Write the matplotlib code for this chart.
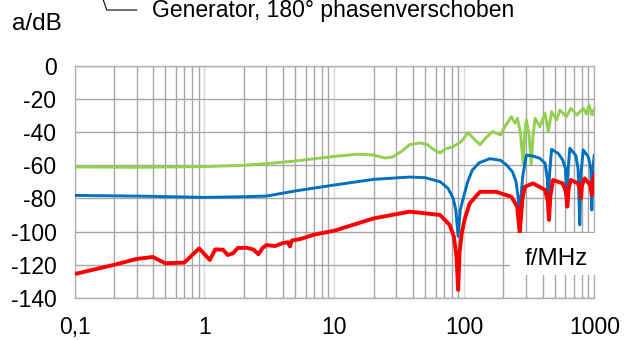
"""Frequency response of three coupling paths, log frequency axis.

Saves the figure as out.png.
"""

import matplotlib.pyplot as plt
import numpy as np
from matplotlib.lines import Line2D
from matplotlib.patches import Rectangle
from matplotlib.ticker import FixedLocator, LogLocator, NullFormatter

# values (f in MHz, a in dB)
green_f = [0.1, 0.3, 1.0, 2.0, 3.0, 5.0, 10, 15, 20, 24.5, 28, 33, 38, 45.5,
           52, 58, 65, 72, 82, 95, 107, 120, 132, 148, 165, 190, 205, 230,
           245, 256, 270, 283, 292, 300, 315, 327, 338, 350, 381, 418, 443,
           469, 513, 543, 611, 660, 736, 822, 870, 913, 957, 1000]
green_db = [-61.0, -61.2, -60.8, -60.0, -59.0, -57.4, -54.6, -53.3, -53.8,
            -55.6, -55.0, -51.5, -47.5, -46.5, -47.5, -50.5, -52.5, -50.0,
            -48.8, -45.5, -40.3, -44.5, -47.5, -43.0, -39.7, -41.7, -36.7,
            -30.6, -34.6, -31.6, -40.0, -58.8, -40.0, -32.6, -42.0, -59.8,
            -42.0, -31.6, -36.7, -28.6, -39.7, -27.6, -32.6, -26.6, -30.6,
            -25.6, -29.6, -25.6, -29.0, -23.6, -29.6, -26.0]

blue_f = [0.1, 0.3, 1.0, 2.0, 3.0, 5.0, 10, 20, 38, 50, 65, 75, 82, 86, 89.6,
          93, 98, 106, 115, 130, 157, 190, 211, 235, 250, 260, 267, 272, 282,
          300, 340, 381, 418, 435, 443, 452, 469, 530, 571, 600, 615, 630, 648,
          720, 750, 773, 790, 822, 900, 940, 957, 975, 1000]
blue_db = [-78.2, -78.6, -79.4, -79.0, -78.6, -75.5, -71.9, -68.5, -67.1,
           -67.5, -69.9, -74.0, -80.0, -87.0, -103.0, -87.0, -80.0, -70.0,
           -63.0, -58.5, -56.0, -57.0, -59.8, -64.0, -70.0, -80.0, -100.0,
           -80.0, -66.0, -53.8, -54.5, -55.8, -58.8, -68.0, -91.0, -66.0,
           -50.3, -53.0, -56.8, -62.0, -85.0, -62.0, -49.7, -54.0, -62.0,
           -96.0, -65.0, -50.7, -55.0, -62.0, -87.0, -62.0, -54.0]

red_f = [0.1, 0.2, 0.3, 0.4, 0.5, 0.7, 0.91, 1.1, 1.21, 1.39, 1.51, 1.66, 1.8,
         2.11, 2.4, 2.6, 2.8, 3.0, 3.5, 4.0, 4.4, 4.55, 4.7, 5.5, 6.9, 10, 20,
         38, 65, 77, 83, 87, 89.6, 92, 96, 101, 110, 132, 175, 230, 255, 267,
         280, 292, 338, 418, 440, 448, 460, 482, 571, 605, 620, 635, 660, 748,
         780, 790, 805, 844, 930, 957, 970, 1000]
red_db = [-125.7, -120.2, -116.6, -115.4, -119.2, -118.8, -110.2, -117.2,
          -110.8, -111.0, -114.2, -113.2, -110.0, -109.8, -111.0, -113.8,
          -110.0, -108.2, -108.8, -107.0, -106.5, -109.0, -105.5, -104.5,
          -102.0, -99.5, -92.1, -88.0, -90.0, -96.0, -103.0, -115.0, -135.3,
          -112.0, -100.0, -92.0, -83.0, -76.0, -76.0, -79.0, -85.0, -101.0,
          -80.0, -73.0, -70.9, -74.9, -82.0, -93.0, -78.0, -68.9, -70.9,
          -76.0, -85.0, -74.0, -68.9, -70.9, -75.0, -80.0, -72.0, -67.9,
          -72.0, -78.0, -70.0, -65.9]

y_ticks = [0, -20, -40, -60, -80, -100, -120, -140]
y_labels = ["0", "-20", "-40", "-60", "-80", "-100", "-120", "-140"]
x_ticks = [0.1, 1, 10, 100, 1000]
x_labels = ["0,1", "1", "10", "100", "1000"]

plt.rcParams["font.family"] = ["Liberation Sans", "DejaVu Sans"]
FS = 16.5
FS_UNIT = 17.5

fig = plt.figure(figsize=(6.24, 3.40), dpi=100)
ax = fig.add_axes([0.1194, 0.1244, 0.833, 0.6815])

ax.plot(green_f, green_db, color="#92d050", lw=2.1, zorder=3)
ax.plot(blue_f, blue_db, color="#0070c0", lw=2.1, zorder=3)
ax.plot(red_f, red_db, color="#ff0000", lw=2.8, zorder=3)

ax.set_xscale("log")
ax.set_xlim(0.1, 1000)
ax.set_ylim(-140, 0)
ax.xaxis.set_major_locator(FixedLocator(x_ticks))
ax.xaxis.set_minor_locator(LogLocator(base=10, subs=np.arange(2, 10)))
ax.xaxis.set_minor_formatter(NullFormatter())
ax.set_xticklabels(x_labels)
ax.set_yticks(y_ticks)
ax.set_yticklabels(y_labels)
ax.tick_params(which="both", length=0, labelsize=FS)
ax.tick_params(axis="y", pad=13)
ax.tick_params(axis="x", pad=13)

ax.grid(True, axis="y", which="major", color="#a6a6a6", lw=1.0)
ax.grid(True, axis="x", which="minor", color="#a6a6a6", lw=1.0)
ax.grid(True, axis="x", which="major", color="#d9d9d9", lw=1.0)
ax.set_axisbelow(True)
for side in ax.spines.values():
    side.set_color("#b0b0b0")
    side.set_linewidth(1.0)

# white label box for the x axis unit
ax.add_patch(Rectangle((0.838, 0.098), 0.17, 0.181, transform=ax.transAxes,
                       facecolor="white", edgecolor="none", clip_on=False,
                       zorder=5))
ax.text(0.865, 0.141, "f/MHz", transform=ax.transAxes, fontsize=FS_UNIT,
        ha="left", va="baseline", zorder=6)

fig.text(0.019, 0.9118, "a/dB", fontsize=FS_UNIT, ha="left", va="baseline")
fig.text(0.243, 0.951, "Generator, 180° phasenverschoben", fontsize=FS,
         ha="left", va="baseline")
fig.add_artist(Line2D([103.3 / 624, 106.7 / 624, 136.7 / 624],
                      [1.0, 1 - 10 / 340, 1 - 10 / 340],
                      transform=fig.transFigure, color="black", lw=0.8))

fig.savefig("out.png", dpi=100)
plt.close(fig)
